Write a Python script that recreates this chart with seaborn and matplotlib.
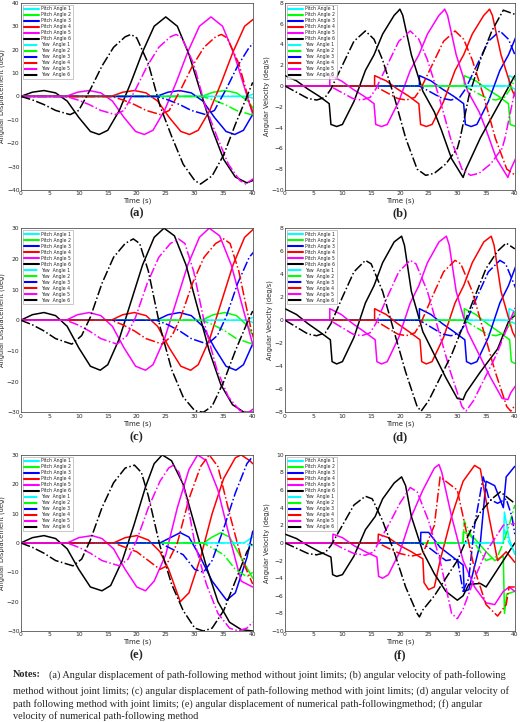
import numpy as np
import pandas as pd
import matplotlib
matplotlib.use("Agg")
import matplotlib.pyplot as plt
import seaborn as sns

sns.set_style("white")
plt.rcParams['font.family'] = ['DejaVu Sans']

COLORS = ["#00ffff", "#00ff00", "#0000ff", "#ff0000", "#ff00ff", "#000000"]
LABELS_P = ["Pitch Angle %d" % i for i in range(1, 7)]
LABELS_Y = ["Yaw  Angle %d" % i for i in range(1, 7)]
# start times of joints 1..6
START = [39.0, 31.2, 23.4, 15.6, 7.8, 0.0]

# ---- panel (a): displacement template (joint 6, shifted for other joints)
A_T_P = [0, 2, 4, 6, 8, 10, 12, 13.5, 15, 17, 19, 21, 23, 25, 27, 29, 31, 33, 35, 37, 39, 40]
A_P = [0, 1.8, 2.5, 1.5, -2, -9, -15, -16.3, -14.5, -6, 6, 19, 30, 34, 30, 18, 2, -14, -27, -34.5, -37, -36]
A_T_Y = [0, 2, 4, 6, 8.5, 10, 12, 14, 16, 18, 19, 20, 22, 24, 26, 28, 30, 31, 33, 35, 37, 39, 40]
A_Y = [0, -1.5, -3.5, -6, -7.8, -6, 3, 13, 21, 25.5, 26.5, 25, 14, -4, -17, -29, -36, -37.5, -34, -25, -12, 0, 6]

# ---- panel (b): velocity template
B_T_P = [0, 2, 4, 6, 7.7, 8, 9, 10, 12, 14, 15.5, 17, 19, 19.7, 20, 20.5, 22, 24, 26, 27.2, 29, 31, 31.5, 34, 37, 40]
B_P = [1, 0.5, -0.3, -1, -1.7, -3.7, -3.9, -3.7, -1.5, 1.5, 3, 5, 6.8, 7.2, 7.4, 6.8, 3, -0.5, -2.5, -4.2, -7, -8.8, -8, -5, -2, 1]
B_T_Y = [0, 2, 4, 5.5, 7, 8, 10, 12, 14, 15.5, 17, 19, 21, 23, 24.5, 26, 28, 30, 30.5, 32, 34, 36, 38, 40]
B_Y = [0, -0.6, -1.2, -1.35, -1.1, -0.3, 2, 4.3, 5.3, 4.5, 2.5, -1, -5, -8, -8.6, -8.4, -7.5, -6, -5, -1, 2.5, 5.3, 7.3, 6.9]

# ---- panel (c)
C_T_P = [0, 2, 4, 6, 8, 10, 12, 13.7, 15, 17, 19, 21, 23, 24.7, 26.5, 28.5, 30.5, 32.5, 34.5, 36.5, 38.5, 40]
C_P = [0, 1.8, 2.5, 1.5, -2, -9, -15, -16.3, -14.5, -6, 6, 18, 27, 30, 27.5, 18, 4, -10, -21, -27.5, -30, -30]
C_T_Y = [0, 2, 4, 6, 8.8, 10.5, 12, 14, 16, 18, 19.4, 20.5, 22, 24, 26, 28, 30, 31.5, 33, 35, 37, 39, 40]
C_Y = [0, -1.5, -3.5, -6, -7.8, -5, 1, 12, 20.5, 25, 26.5, 25, 16, -2, -16, -25, -29.5, -30, -28, -20, -10, -1, 3]

# ---- panel (d)
D_T_P = [0, 2, 4, 6, 7.9, 8.2, 9, 10, 12, 14, 15.5, 17, 19, 20.3, 20.8, 22, 24, 26, 28, 30, 31, 31.5, 34, 37, 39, 40]
D_P = [1, 0.5, -0.3, -1, -1.7, -3.6, -3.8, -3.6, -1.5, 1.5, 3, 5, 6.8, 7.3, 6.5, 2.5, -1, -3, -5, -6.8, -6.9, -6.3, -4.5, -2.5, 0, 0.4]
D_T_Y = [0, 2, 4, 5.5, 7, 8, 10, 12, 14, 15, 17, 19, 21, 23, 23.7, 25, 27, 29, 31, 33, 35, 37, 38.5, 40]
D_Y = [0, -0.6, -1.2, -1.35, -1.1, -0.3, 2, 4.2, 5.2, 4.9, 2.5, -1, -4.5, -7.5, -7.9, -7, -5, -3, -0.5, 2, 4.5, 6, 6.7, 6.2]

# ---- panel (e): explicit series per joint (1..6)
E_P_T = [
    [0, 38.5, 40],
    [0, 31.5, 33, 34.5, 36, 38, 40],
    [0, 24, 26, 27.5, 29, 31, 33, 35.5, 37, 39, 40],
    [0, 16, 18, 20, 22, 24, 25.5, 27.5, 29, 31, 33, 35, 37, 38, 39.5, 40],
    [0, 8, 10, 12.3, 14, 16, 18, 20, 21.5, 23, 25, 27, 29, 30.5, 32, 34, 36, 38, 40],
    [0, 2, 4, 6, 8, 10, 12, 14, 15.5, 17.5, 19.5, 21.5, 23, 24.4, 26, 28, 30, 32, 34, 36, 38, 40],
]
E_P_V = [
    [0, 0, 2],
    [0, 0, 2, 3.5, 2, -5, -12],
    [0, 0, 2, 3.5, 2, -5, -13, -19.5, -17, -5, 4],
    [0, 0, 1.8, 2.5, 1, -3, -9, -20, -17, -5, 10, 22, 29, 30, 28, 27],
    [0, 0, 1.8, 2.5, 1.5, -2, -9, -15, -16.3, -13, -4, 12, 25, 30, 28, 18, 2, -13, -15],
    [0, 1.8, 2.5, 1.5, -2, -9, -15, -16.3, -14.5, -6, 6, 19, 27, 30, 28, 20, 6, -8, -20, -27, -29.5, -30],
]
E_Y_T = [
    [0, 38.5, 40],
    [0, 31.5, 35, 37, 39, 40],
    [0, 24, 28, 30, 31.5, 33, 35, 37, 39, 40],
    [0, 16, 20, 24, 25, 27, 29, 31, 32.5, 34, 36, 38, 40],
    [0, 8, 10, 12, 14, 17, 18.5, 20, 22, 24, 25.5, 26.3, 27.3, 28.5, 30, 32, 34, 36, 37.5, 39, 40],
    [0, 2, 4, 6, 9, 10.5, 12, 14, 16, 18, 19.6, 20.8, 22, 24, 26, 28, 30, 31.5, 33, 35, 37, 39, 40],
]
E_Y_V = [
    [0, 0, -1],
    [0, 0, -4, -9, -11.5, -10],
    [0, 0, -4, -9, -10, -6, 5, 17, 27, 29.5],
    [0, 0, -3, -9, -8, 0, 15, 26, 30, 26, 10, -5, -14],
    [0, 0, -1.5, -3.5, -6, -7.8, -5.5, 1, 12, 21, 25.5, 26.5, 24, 16, 0, -14, -24, -29, -30, -29, -27],
    [0, -1.5, -3.5, -6, -7.8, -5.5, 1, 12, 20.5, 25.5, 26.5, 24, 16, -1, -14, -23, -29, -30, -29, -23, -13, -3, 0],
]

# ---- panel (f): explicit series per joint (1..6)
F_P_T = [
    [0, 38, 38.2, 39, 40],
    [0, 31, 31.05, 33, 35, 36.5, 38, 38.2, 38.6, 40],
    [0, 23.6, 23.65, 25, 27, 29, 31, 31.2, 32, 34, 35, 36.5, 38, 38.5, 40],
    [0, 16.2, 16.25, 18, 20, 22, 24, 24.2, 25, 26, 27, 29, 31, 33, 34, 35.5, 37, 38.5, 40],
    [0, 8.3, 8.35, 10, 12, 14, 16, 16.3, 17, 18, 20, 22, 24, 26, 26.8, 27.3, 29, 31, 33, 35, 36.5, 38, 39, 40],
    [0, 2, 4, 6, 8, 8.3, 9, 10, 12, 14, 15.7, 17, 19, 20.3, 21, 22, 24, 26, 28, 30, 31, 32, 34, 35, 36, 38, 40],
]
F_P_V = [
    [0, 0, 3.5, 0.5, -1.3],
    [0, 0, 1.3, 0.5, -1, -2, -1.5, -8, -5.8, -5.5],
    [0, 0, 1.2, 1.2, -0.5, -1.5, -2.5, -5.5, -5.3, 0, 7, 6.5, 4, 7.5, 8.7],
    [0, 0, 1, 0.6, -0.3, -1, -1.8, -4.5, -5.3, -5, -2, 3, 7, 8.8, 8.4, 3, -2, -1, -2.2],
    [0, 0, 1, 0.6, -0.3, -1, -1.6, -3.8, -4, -3.6, -1, 3, 6, 8.5, 8.9, 8, 3, -2, -5, -6.8, -7, -5.5, -5, -5.5],
    [1, 0.5, -0.3, -1, -1.6, -3.6, -3.8, -3.6, -1.5, 1.5, 3, 5, 6.8, 7.5, 6.5, 3, -1, -3.5, -5.5, -6.5, -6, -4.7, -4.6, -5, -4, -2, 0],
]
F_Y_T = [
    [0, 38, 38.2, 39, 40],
    [0, 31, 31.2, 33, 35, 37, 38, 39, 40],
    [0, 23.6, 25, 27, 28, 30, 31, 32, 33, 34.5, 35.5, 37, 38.5, 39.5, 40],
    [0, 16.2, 18, 20, 22, 24, 26, 27, 28, 30, 31, 33, 35, 37, 38.5, 39, 40],
    [0, 8.3, 10, 12, 14, 15.5, 16, 18, 20, 21.8, 23, 25, 27, 28, 29, 30, 31, 33, 35, 37, 38, 40],
    [0, 2, 4, 5.5, 7, 8, 10, 12, 14, 15.2, 17, 19, 21, 23, 23.4, 24, 26, 28, 30, 32, 34, 36, 37.5, 39, 40],
]
F_Y_V = [
    [0, 0, 1.5, 0, -1],
    [0, 0, 2.5, 0, -2, -1.5, 0, 2, 4.3],
    [0, 0, -0.5, -1.5, -2, -1.8, -5.5, -4, 2, 7.5, 5, 4.5, 5, 3, 1],
    [0, 0, -0.6, -1.2, -1.5, -1.2, 2, 7.5, 7, 6, 3, -3, -7, -8.3, -7, -5, -5],
    [0, 0, -0.6, -1.2, -1.4, -1, -0.3, 2, 4.5, 6.3, 5.8, 2.5, -2, -5, -8, -8.6, -7.5, -4, -1, 1, 2, 2.2],
    [0, -0.6, -1.2, -1.35, -1.1, -0.3, 2, 4.3, 5.3, 5, 2.5, -1, -5, -8, -8.4, -7.6, -6, -4, -2, 1, 3.5, 5, 5.8, 5, 4.5],
]

NOTES_FIRST = "(a) Angular displacement of path-following method without joint limits; (b) angular velocity of path-following"
NOTES_REST = ("method without joint limits; (c) angular displacement of path-following method with joint limits; (d) angular velocity of\n"
              "path following method with joint limits; (e) angular displacement of numerical path-followingmethod; (f) angular\n"
              "velocity of numerical path-following method")


def series_from_template(t, v, start):
    t = list(np.array(t) + start)
    v = list(v)
    if start > 0:
        t = [0, start] + t
        v = [0, 0] + v
    return t, v


fig = plt.figure(figsize=(5.2, 7.22), dpi=100)
rows = [(0.737, 0.259), (0.429, 0.255), (0.126, 0.244)]
cols = [(0.040, 0.446), (0.548, 0.442)]
panels = [
    ("a", "tmpl", (A_T_P, A_P, A_T_Y, A_Y), (-40, 40, 10), "Angular Displacement (deg)"),
    ("b", "tmpl", (B_T_P, B_P, B_T_Y, B_Y), (-10, 8, 2), "Angular Velocity (deg/s)"),
    ("c", "tmpl", (C_T_P, C_P, C_T_Y, C_Y), (-30, 30, 10), "Angular Displacement (deg)"),
    ("d", "tmpl", (D_T_P, D_P, D_T_Y, D_Y), (-8, 8, 2), "Angular Velocity (deg/s)"),
    ("e", "expl", (E_P_T, E_P_V, E_Y_T, E_Y_V), (-30, 30, 10), "Angular Displacement (deg)"),
    ("f", "expl", (F_P_T, F_P_V, F_Y_T, F_Y_V), (-10, 10, 2), "Angular Velocity (deg/s)"),
]
label_y = [0.705, 0.395, 0.092]

for k, (name, kind, data, ylim, ylab) in enumerate(panels):
    r, c = divmod(k, 2)
    ax = fig.add_axes([cols[c][0], rows[r][0], cols[c][1], rows[r][1]])
    for kindline in ("P", "Y"):
        for j in range(6):
            if kind == "tmpl":
                tt, vv = (data[0], data[1]) if kindline == "P" else (data[2], data[3])
                x, y = series_from_template(tt, vv, START[j])
            else:
                if kindline == "P":
                    x, y = data[0][j], data[1][j]
                else:
                    x, y = data[2][j], data[3][j]
            lab = LABELS_P[j] if kindline == "P" else LABELS_Y[j]
            df = pd.DataFrame({"t": x, "v": y})
            sns.lineplot(data=df, x="t", y="v", ax=ax, color=COLORS[j], sort=False,
                         estimator=None, linewidth=1.1,
                         linestyle="-" if kindline == "P" else "-.", label=lab, legend=False)
    ax.set_xlim(0, 40)
    ax.set_ylim(ylim[0], ylim[1])
    ax.set_xticks(range(0, 41, 5))
    ax.set_yticks(np.arange(ylim[0], ylim[1] + 0.1, ylim[2]))
    ax.tick_params(labelsize=4.3, length=1.5, pad=1, direction="in")
    ax.set_xlabel("Time (s)", fontsize=5, labelpad=1)
    ax.set_ylabel(ylab, fontsize=4.8, labelpad=1)
    for s in ax.spines.values():
        s.set_linewidth(0.5)
        s.set_color("#333333")
    hs, ls = ax.get_legend_handles_labels()
    leg = ax.legend(hs, ls, loc="upper left", fontsize=3.3, frameon=True, handlelength=3.2,
                    borderpad=0.35, labelspacing=0.22, fancybox=False, edgecolor="#888888",
                    borderaxespad=0.4, handletextpad=0.5)
    for h in leg.get_lines():
        h.set_linewidth(1.5)
    leg.get_frame().set_linewidth(0.4)
    xc = cols[c][0] + cols[c][1] / 2
    fig.text(xc, label_y[r], "(%s)" % name, ha="center", va="center", fontsize=9,
             fontweight="bold", family="Liberation Serif")

fig.text(0.025, 0.072, "Notes:", fontsize=7.4, fontweight="bold", family="Liberation Serif", va="top")
fig.text(0.095, 0.072, NOTES_FIRST, fontsize=7.4, family="Liberation Serif", va="top")
fig.text(0.025, 0.050, NOTES_REST, fontsize=7.4, family="Liberation Serif", va="top",
         linespacing=1.35)
fig.savefig("out.png", dpi=100)
